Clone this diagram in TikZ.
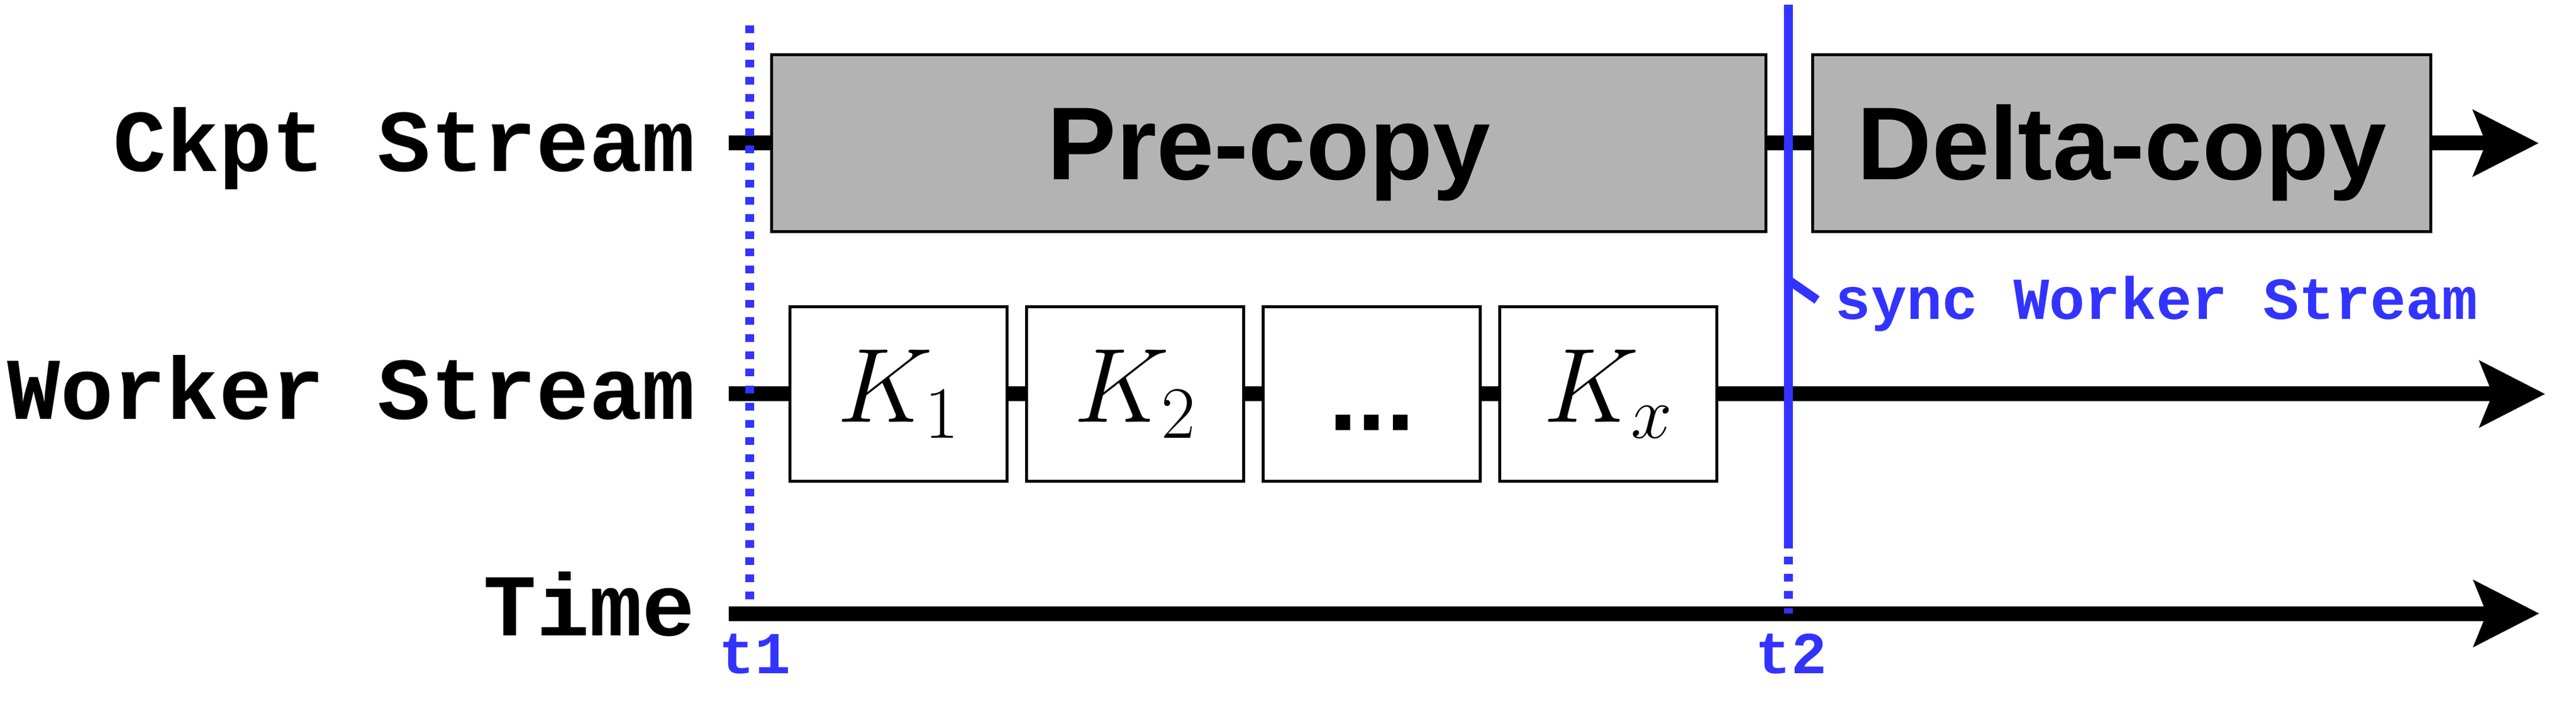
\RequirePackage{fix-cm}
\documentclass[tikz,border=0pt]{standalone}
\usepackage{fontspec}
\setsansfont{Liberation Sans}
\setmonofont{Liberation Mono}
\usetikzlibrary{arrows.meta}
\definecolor{syncblue}{RGB}{51,51,255}
\definecolor{boxgray}{RGB}{179,179,179}
\tikzset{
    lbl/.style = {anchor=base east, inner sep=0pt, font=\ttfamily\bfseries\fontsize{42.4}{50}\selectfont},
    cellg/.style = {rectangle, draw=black, line width=0.05cm, fill=boxgray, minimum height=2.99cm, inner sep=0pt, text height=1.56cm, text depth=0.32cm, font=\sffamily\bfseries\fontsize{49.8}{58}\selectfont},
    cellw/.style = {rectangle, draw=black, line width=0.05cm, fill=white, minimum width=3.67cm, minimum height=2.95cm, inner sep=0pt, font=\fontsize{50.8}{60}\selectfont},
    edgen/.style = {line width=0.25cm},
    edgea/.style = {line width=0.25cm, -{Stealth[length=1.1cm, width=1.1cm, inset=0.21cm]}},
    edgeb/.style = {line width=0.15cm, syncblue},
    edgebd/.style = {line width=0.15cm, syncblue, dash pattern=on 0.13cm off 0.16cm}, % marks
    tlbl/.style = {anchor=base, inner sep=0pt, text=syncblue, font=\ttfamily\bfseries\fontsize{28.6}{34}\selectfont}
}

\begin{document}
\begin{tikzpicture}
\useasboundingbox (0,0) rectangle (43.55,-11.90);
\node[lbl] (ckptlbl) at (11.76,-2.90) {Ckpt Stream};
\node[lbl] (workerlbl) at (11.76,-7.09) {Worker Stream};
\node[lbl] (timelbl) at (11.76,-10.74) {Time};
%
\node[cellg, minimum width=16.81cm] (pre) at (21.45,-2.42) {Pre-copy};
\node[cellg, minimum width=10.45cm] (delta) at (35.87,-2.42) {Delta-copy};
\node[cellw] (k1) at (15.19,-6.66) {$K_1$};
\node[cellw] (k2) at (19.19,-6.66) {$K_2$};
\node[cellw, text height=1.56cm, text depth=0.32cm, font=\sffamily\bfseries\fontsize{49.8}{58}\selectfont] (kdots) at (23.19,-6.66) {...};
\node[cellw] (kx) at (27.19,-6.66) {$K_x$};
%
\coordinate (ckS) at (12.32,-2.42);
\coordinate (ckE) at (42.92,-2.42);
\coordinate (wkS) at (12.32,-6.66);
\coordinate (wkE) at (43.03,-6.66);
\coordinate (tmS) at (12.32,-10.37);
\coordinate (tmE) at (42.93,-10.37);
\draw[edgen] (ckS) -- (pre);
\draw[edgen] (pre) -- (delta);
\draw[edgea] (delta) -- (ckE);
\draw[edgen] (wkS) -- (k1);
\draw[edgen] (k1) -- (k2);
\draw[edgen] (k2) -- (kdots);
\draw[edgen] (kdots) -- (kx);
\draw[edgea] (kx) -- (wkE);
\draw[edgea] (tmS) -- (tmE);
%
\coordinate (t1top) at (12.67,-0.43);
\coordinate (t1bot) at (12.67,-10.15);
\coordinate (t2top) at (30.23,-0.08);
\coordinate (t2mid) at (30.23,-9.27);
\coordinate (t2bot) at (30.23,-10.37);
\coordinate (tickS) at (30.23,-4.73);
\coordinate (tickE) at (30.72,-5.07);
\draw[edgebd] (t1top) -- (t1bot);
\draw[edgeb] (t2top) -- (t2mid);
\draw[edgebd] ([yshift=-0.14cm]t2mid) -- (t2bot);
\draw[edgeb] (tickS) -- (tickE);
\node[tlbl, anchor=base west] (synclbl) at (31.02,-5.40) {sync Worker Stream};
\node[tlbl] (t1lbl) at (12.76,-11.38) {t1};
\node[tlbl] (t2lbl) at (30.28,-11.38) {t2};

\end{tikzpicture}
\end{document}
